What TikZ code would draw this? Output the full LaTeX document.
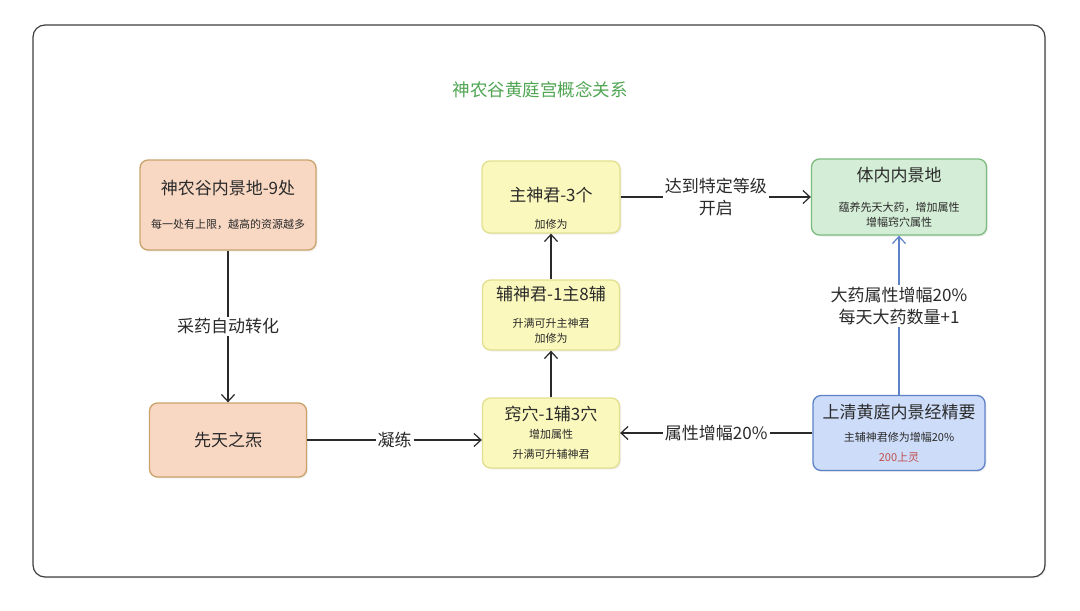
\documentclass[tikz,border=0pt]{standalone}
\usepackage{fontspec}
\setmainfont{Noto Sans CJK SC}
\usepackage{xcolor}
\usetikzlibrary{
    arrows.meta,
    positioning,
    shadows
}

\definecolor{peachfill}{HTML}{F8D8C3}
\definecolor{peachline}{HTML}{C9A36B}
\definecolor{lemonfill}{HTML}{FAF8BC}
\definecolor{lemonline}{HTML}{E2DF8E}
\definecolor{mintfill}{HTML}{D4EDD6}
\definecolor{mintline}{HTML}{7DBB7F}
\definecolor{skyfill}{HTML}{CDDCF8}
\definecolor{skyline}{HTML}{5E82C8}
\definecolor{titlegreen}{HTML}{4FA552}
\definecolor{costred}{HTML}{C0504D}
\definecolor{inkgray}{HTML}{2A2A2A}

\newcommand{\boxhead}[1]{{\fontsize{17}{17}\selectfont #1}}

\tikzset{
    box/.style={draw, rounded corners=8pt, line width=1.3pt, align=center,
        inner sep=0pt, text=inkgray, font=\fontsize{11}{15}\selectfont,
        drop shadow={opacity=0.12, shadow xshift=1.5pt, shadow yshift=-1.5pt}},
    peach/.style={box, fill=peachfill, draw=peachline},
    lemon/.style={box, fill=lemonfill, draw=lemonline},
    mint/.style={box, fill=mintfill, draw=mintline},
    sky/.style={box, fill=skyfill, draw=skyline},
    flow/.style={-{Straight Barb[length=7pt, width=13pt]}, line width=1.2pt, draw=inkgray},
    tag/.style={fill=white, inner sep=2pt, align=center, text=inkgray,
        font=\fontsize{17}{22}\selectfont}
}

\begin{document}
\begin{tikzpicture}[x=1pt, y=-1pt]
    \useasboundingbox (0, 0) rectangle (1080, 611);
    \draw[line width=1.2pt, draw=inkgray!90, rounded corners=12pt,
        drop shadow={opacity=0.1, shadow xshift=1.5pt, shadow yshift=-1.5pt}, fill=white]
        (33, 25) rectangle (1045, 577);
    \node[text=titlegreen, font=\fontsize{17.5}{17.5}\selectfont] (ttl) at (540, 90) {神农谷黄庭宫概念关系};

    \node[peach, minimum width=176pt, minimum height=90pt] (nei) at (228, 205)
        {\boxhead{神农谷内景地-9处}\\[19pt]每一处有上限，越高的资源越多};
    \node[peach, minimum width=157pt, minimum height=74pt] (xian) at (228, 440)
        {\boxhead{先天之炁}};
    \node[lemon, minimum width=138pt, minimum height=72pt] (zhu) at (551, 197)
        {\rule{0pt}{36pt}\boxhead{主神君-3个}\\[12pt]加修为};
    \node[lemon, minimum width=137pt, minimum height=70pt] (fu) at (551, 315)
        {\boxhead{辅神君-1主8辅}\\[12pt]升满可升主神君\\加修为};
    \node[lemon, minimum width=137pt, minimum height=70pt] (qiao) at (551, 433)
        {\boxhead{窍穴-1辅3穴}\\[3pt]增加属性\\[5pt]升满可升辅神君};
    \node[mint, minimum width=175pt, minimum height=76pt] (ti) at (899, 197)
        {\boxhead{体内内景地}\\[15pt]蕴养先天大药，增加属性\\增幅窍穴属性};
    \node[sky, minimum width=172pt, minimum height=75pt] (jing) at (899, 433)
        {\boxhead{上清黄庭内景经精要}\\[8pt]主辅神君修为增幅20\%\\[5pt]{\color{costred}200上灵}};

    \draw[flow] (nei) -- node[tag] {采药自动转化} (xian);
    \draw[flow] (xian.east) -- node[tag] {凝练} (xian.east -| qiao.west);
    \draw[flow] (qiao) -- (fu);
    \draw[flow] (fu) -- (zhu);
    \draw[flow] (zhu) -- node[tag] {达到特定等级\\开启} (ti);
    \draw[flow] (jing) -- node[tag] {属性增幅20\%} (qiao);
    \draw[flow, draw=skyline] (jing) -- node[tag, pos=0.56] {大药属性增幅20\%\\每天大药数量+1} (ti);
\end{tikzpicture}
\end{document}
